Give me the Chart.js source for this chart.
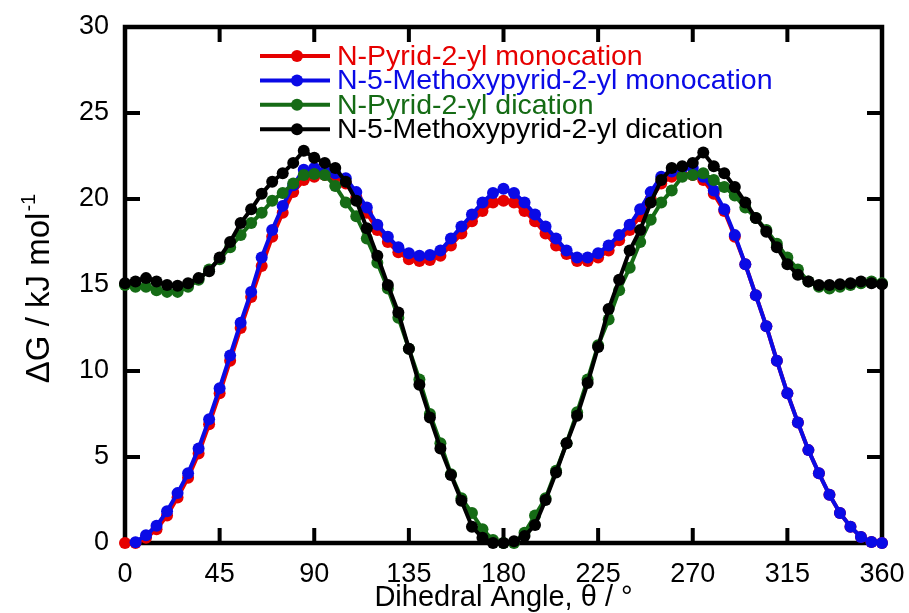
<!DOCTYPE html>
<html>
<head>
<meta charset="utf-8">
<script src="https://cdn.jsdelivr.net/npm/chart.js@4.4.1/dist/chart.umd.min.js"></script>
<style>
  html, body { margin: 0; padding: 0; background: #fff; }
  #wrap { width: 909px; height: 613px; }
</style>
</head>
<body>
<div id="wrap"><canvas id="myChart" width="909" height="613"></canvas></div>
<script>
// dihedral angle every 5 degrees, 0..360
const angles = [0,5,10,15,20,25,30,35,40,45,50,55,60,65,70,75,80,85,90,95,100,105,110,115,120,125,130,135,140,145,150,155,160,165,170,175,180,185,190,195,200,205,210,215,220,225,230,235,240,245,250,255,260,265,270,275,280,285,290,295,300,305,310,315,320,325,330,335,340,345,350,355,360];

const pyridMono = [0,0,0.3,0.8,1.6,2.65,3.8,5.2,6.9,8.7,10.6,12.5,14.3,16.1,17.8,19.2,20.4,21.1,21.3,21.4,21.3,20.9,20.1,19.2,18.2,17.5,16.9,16.5,16.4,16.45,16.7,17.3,18.0,18.7,19.3,19.8,19.9,19.8,19.3,18.7,18.0,17.3,16.8,16.4,16.4,16.6,17.0,17.6,18.2,19.0,20.0,20.9,21.3,21.4,21.4,21.1,20.3,19.3,17.8,16.2,14.4,12.6,10.6,8.7,7.0,5.4,4.05,2.8,1.75,0.95,0.35,0.06,0];

const methoxyMono = [null,0.05,0.45,1.0,1.85,2.9,4.05,5.5,7.2,9.0,10.9,12.8,14.6,16.6,18.2,19.6,20.8,21.7,21.8,21.6,21.5,21.2,20.4,19.5,18.5,17.8,17.2,16.85,16.7,16.75,17.0,17.7,18.4,19.1,19.8,20.35,20.6,20.35,19.8,19.1,18.4,17.7,17.0,16.6,16.6,16.85,17.3,17.9,18.5,19.4,20.4,21.3,21.6,21.8,21.8,21.3,20.5,19.4,17.9,16.2,14.4,12.6,10.6,8.7,7.0,5.4,4.05,2.8,1.75,0.95,0.35,0.06,0];

const pyridDi = [15.0,14.9,14.9,14.7,14.6,14.6,14.9,15.3,15.9,16.5,17.2,17.9,18.6,19.2,19.9,20.35,20.9,21.4,21.45,21.4,20.75,19.8,19.0,17.7,16.3,14.8,13.1,11.3,9.5,7.5,5.8,4.0,2.6,1.74,0.8,0.17,0,0,0.6,1.6,2.6,4.2,5.8,7.6,9.5,11.5,13.0,14.7,16.0,17.5,18.8,19.8,20.5,21.3,21.4,21.5,21.1,20.7,20.2,19.5,18.9,18.2,17.4,16.6,15.9,15.2,14.9,14.8,14.9,15.0,15.1,15.2,15.1];

const methoxyDi = [15.1,15.2,15.4,15.2,15.0,14.95,15.1,15.4,15.8,16.6,17.5,18.6,19.4,20.3,21.0,21.5,22.1,22.8,22.4,22.1,21.8,21.0,19.9,18.3,16.7,15.0,13.4,11.3,9.2,7.3,5.5,3.95,2.45,0.95,0.3,0,0,0.1,0.4,1.05,2.5,4.1,5.8,7.4,9.3,11.4,13.6,15.3,17.0,18.2,19.8,21.1,21.8,21.9,22.1,22.7,21.9,21.5,20.7,19.8,18.9,18.1,17.2,16.2,15.6,15.2,15.0,15.0,15.05,15.1,15.2,15.1,15.05];

const seriesNames = [
  "N-Pyrid-2-yl monocation",
  "N-5-Methoxypyrid-2-yl monocation",
  "N-Pyrid-2-yl dication",
  "N-5-Methoxypyrid-2-yl dication",
];
const seriesColors = ["#e60000", "#0a0ae6", "#156b15", "#000000"];
const xTicks = [0, 45, 90, 135, 180, 225, 270, 315, 360];
const yTicks = [0, 5, 10, 15, 20, 25, 30];

const FONT = "Liberation Sans, Arial, sans-serif";

const toPoints = (arr) => angles.map((a, i) => ({ x: a, y: arr[i] }));

const allSeries = [pyridMono, methoxyMono, pyridDi, methoxyDi];
const datasets = allSeries.map((arr, i) => ({
  label: seriesNames[i],
  data: toPoints(arr),
  showLine: true,
  borderColor: seriesColors[i],
  backgroundColor: seriesColors[i],
  borderWidth: 4,
  pointRadius: 6,
  pointBorderWidth: 0,
  spanGaps: true,
  clip: false,
  order: allSeries.length - i, // later series on top, like the original plot
}));

// box + inward ticks on all four sides
const framePlugin = {
  id: "frame",
  beforeDatasetsDraw(chart) {
    const { ctx, chartArea: a, scales } = chart;
    ctx.save();
    ctx.strokeStyle = "#000";
    ctx.lineWidth = 4.5;
    ctx.strokeRect(a.left, a.top, a.right - a.left, a.bottom - a.top);
    ctx.lineWidth = 4;
    const len = 15;
    ctx.beginPath();
    xTicks.forEach((t) => {
      const px = scales.x.getPixelForValue(t);
      ctx.moveTo(px, a.bottom);
      ctx.lineTo(px, a.bottom - len);
      ctx.moveTo(px, a.top);
      ctx.lineTo(px, a.top + len);
    });
    yTicks.forEach((t) => {
      const py = scales.y.getPixelForValue(t);
      ctx.moveTo(a.left, py);
      ctx.lineTo(a.left + len, py);
      ctx.moveTo(a.right, py);
      ctx.lineTo(a.right - len, py);
    });
    ctx.stroke();
    ctx.restore();
  },
  afterDraw(chart) {
    const { ctx, chartArea: a } = chart;
    ctx.save();
    // axis titles
    ctx.fillStyle = "#000";
    ctx.font = "29px " + FONT;
    ctx.textAlign = "center";
    ctx.textBaseline = "middle";
    ctx.fillText("Dihedral Angle, \u03b8 / \u00b0", (a.left + a.right) / 2, 598);

    ctx.translate(40, (a.top + a.bottom) / 2 + 4);
    ctx.rotate(-Math.PI / 2);
    const main = "\u0394G / kJ mol";
    const sup = "-1";
    ctx.font = "33px " + FONT;
    const w1 = ctx.measureText(main).width;
    ctx.font = "20px " + FONT;
    const w2 = ctx.measureText(sup).width;
    const x0 = -(w1 + w2) / 2;
    ctx.textAlign = "left";
    ctx.font = "33px " + FONT;
    ctx.fillText(main, x0, 0);
    ctx.font = "20px " + FONT;
    ctx.fillText(sup, x0 + w1 + 1, -11);
    ctx.restore();

    // legend
    ctx.save();
    ctx.font = "28.5px " + FONT;
    ctx.textAlign = "left";
    ctx.textBaseline = "middle";
    seriesNames.forEach((name, i) => {
      const y = 56 + i * 24.4;
      ctx.strokeStyle = seriesColors[i];
      ctx.fillStyle = seriesColors[i];
      ctx.lineWidth = 4;
      ctx.beginPath();
      ctx.moveTo(260, y);
      ctx.lineTo(330, y);
      ctx.stroke();
      ctx.beginPath();
      ctx.arc(297, y, 6, 0, Math.PI * 2);
      ctx.fill();
      ctx.fillText(name, 337, y + 1);
    });
    ctx.restore();
  },
};

const ctx = document.getElementById("myChart").getContext("2d");

new Chart(ctx, {
  type: "scatter",
  data: { datasets },
  options: {
    responsive: false,
    animation: false,
    layout: { padding: { top: 27, right: 27, left: 0, bottom: 0 } },
    plugins: {
      legend: { display: false },
      tooltip: { enabled: false },
    },
    scales: {
      x: {
        type: "linear",
        min: 0,
        max: 360,
        afterFit: (s) => {
          s.height = 70;
          s.paddingLeft = 0;
          s.paddingRight = 0;
        },
        afterBuildTicks: (s) => { s.ticks = xTicks.map((v) => ({ value: v })); },
        grid: { display: false, drawTicks: false },
        border: { display: false },
        ticks: {
          color: "#000",
          font: { family: FONT, size: 27 },
          padding: 15,
          maxRotation: 0,
        },
      },
      y: {
        min: 0,
        max: 30,
        afterFit: (s) => {
          s.width = 125;
          s.paddingTop = 0;
          s.paddingBottom = 0;
        },
        afterBuildTicks: (s) => { s.ticks = yTicks.map((v) => ({ value: v })); },
        grid: { display: false, drawTicks: false },
        border: { display: false },
        ticks: {
          color: "#000",
          font: { family: FONT, size: 27 },
          padding: 16,
        },
      },
    },
  },
  plugins: [framePlugin],
});
</script>
</body>
</html>
